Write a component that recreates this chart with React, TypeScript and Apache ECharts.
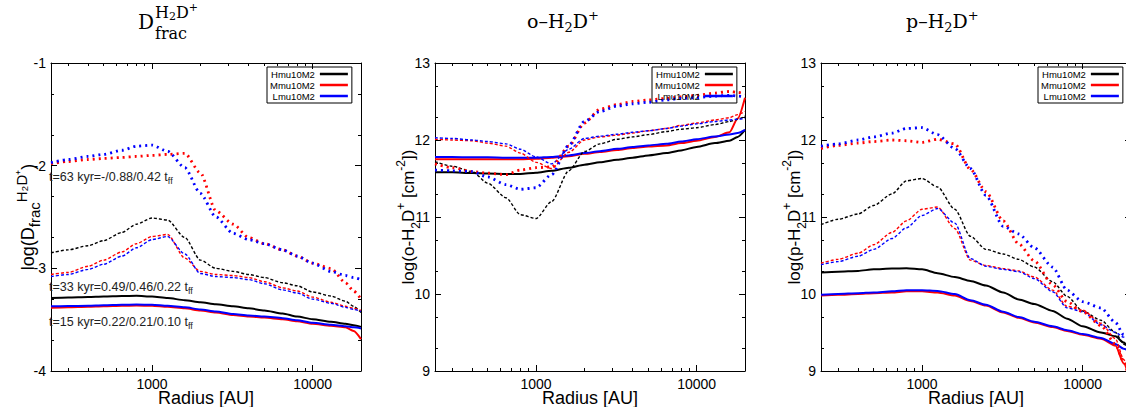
import React, { useEffect, useRef } from "react";
import * as echarts from "echarts";

// ---------- data ----------
const radius = [235, 300, 400, 500, 650, 800, 1000, 1250, 1600, 2000, 2500, 3200, 4000, 5000, 6500, 8000, 10000, 13000, 16000, 18000, 20000];

// Panel 1: log(D_frac)
const dfH15 = [-3.29, -3.285, -3.28, -3.275, -3.27, -3.268, -3.275, -3.29, -3.31, -3.33, -3.35, -3.37, -3.39, -3.41, -3.44, -3.47, -3.495, -3.52, -3.54, -3.555, -3.57];
const dfM15 = [-3.385, -3.38, -3.375, -3.37, -3.365, -3.362, -3.365, -3.375, -3.39, -3.41, -3.43, -3.455, -3.47, -3.48, -3.495, -3.515, -3.54, -3.56, -3.575, -3.61, -3.69];
const dfL15 = [-3.37, -3.368, -3.365, -3.36, -3.355, -3.352, -3.355, -3.365, -3.38, -3.40, -3.42, -3.445, -3.46, -3.47, -3.485, -3.505, -3.53, -3.55, -3.565, -3.575, -3.585];
const dfH33 = [-2.85, -2.82, -2.78, -2.73, -2.65, -2.57, -2.51, -2.53, -2.70, -2.92, -3.00, -3.03, -3.06, -3.09, -3.14, -3.17, -3.23, -3.27, -3.32, -3.37, -3.43];
const dfM33 = [-3.06, -3.04, -2.98, -2.92, -2.84, -2.76, -2.69, -2.67, -2.90, -3.03, -3.06, -3.07, -3.09, -3.13, -3.19, -3.22, -3.28, -3.33, -3.37, -3.39, -3.41];
const dfL33 = [-3.08, -3.06, -3.01, -2.96, -2.88, -2.80, -2.72, -2.69, -2.86, -3.05, -3.08, -3.09, -3.11, -3.15, -3.21, -3.24, -3.30, -3.34, -3.38, -3.40, -3.42];
const dfM63 = [-1.98, -1.96, -1.94, -1.93, -1.92, -1.91, -1.90, -1.89, -1.88, -2.07, -2.44, -2.57, -2.70, -2.76, -2.82, -2.88, -2.95, -3.00, -3.14, -3.22, -3.30];
const dfL63 = [-1.97, -1.94, -1.91, -1.89, -1.85, -1.81, -1.80, -1.86, -2.02, -2.27, -2.50, -2.66, -2.72, -2.76, -2.82, -2.88, -2.95, -3.03, -3.07, -3.09, -3.11];

// Panel 2: log(o-H2D+)
const oH15 = [11.58, 11.58, 11.57, 11.565, 11.56, 11.56, 11.575, 11.60, 11.64, 11.68, 11.71, 11.745, 11.77, 11.80, 11.83, 11.865, 11.91, 11.96, 11.99, 12.04, 12.13];
const oM15 = [11.75, 11.75, 11.75, 11.75, 11.75, 11.75, 11.755, 11.77, 11.79, 11.82, 11.845, 11.87, 11.895, 11.915, 11.93, 11.96, 11.99, 12.04, 12.10, 12.28, 12.55];
const oL15 = [11.78, 11.78, 11.775, 11.775, 11.77, 11.77, 11.77, 11.78, 11.80, 11.83, 11.855, 11.885, 11.91, 11.93, 11.95, 11.98, 12.01, 12.045, 12.07, 12.09, 12.13];
const oH33 = [11.72, 11.66, 11.59, 11.44, 11.25, 11.03, 10.98, 11.20, 11.60, 11.85, 11.95, 12.01, 12.04, 12.07, 12.11, 12.14, 12.16, 12.20, 12.24, 12.27, 12.31];
const oM33 = [12.01, 12.0, 11.99, 11.96, 11.92, 11.83, 11.71, 11.63, 11.84, 12.0, 12.04, 12.065, 12.09, 12.12, 12.15, 12.19, 12.22, 12.26, 12.29, 12.33, 12.37];
const oL33 = [12.03, 12.02, 12.0, 11.98, 11.95, 11.88, 11.78, 11.69, 11.88, 12.02, 12.05, 12.075, 12.10, 12.12, 12.15, 12.18, 12.21, 12.24, 12.26, 12.27, 12.28];
const oM63 = [11.69, 11.64, 11.59, 11.57, 11.55, 11.61, 11.64, 11.65, 11.92, 12.22, 12.40, 12.46, 12.50, 12.52, 12.54, 12.56, 12.58, 12.61, 12.63, 12.62, 12.60];
const oL63 = [11.61, 11.60, 11.59, 11.52, 11.42, 11.36, 11.38, 11.55, 11.93, 12.24, 12.37, 12.44, 12.47, 12.49, 12.52, 12.54, 12.55, 12.57, 12.58, 12.57, 12.56];

// Panel 3: log(p-H2D+)
const pH15 = [10.28, 10.29, 10.30, 10.32, 10.33, 10.335, 10.32, 10.27, 10.22, 10.17, 10.11, 10.02, 9.93, 9.87, 9.78, 9.68, 9.58, 9.50, 9.45, 9.37, 9.25];
const pM15 = [9.98, 9.99, 10.0, 10.01, 10.02, 10.035, 10.035, 10.02, 9.98, 9.91, 9.85, 9.76, 9.69, 9.63, 9.57, 9.52, 9.47, 9.42, 9.33, 9.10, 8.80];
const pL15 = [9.99, 10.0, 10.01, 10.02, 10.035, 10.05, 10.05, 10.04, 10.0, 9.92, 9.86, 9.77, 9.70, 9.64, 9.58, 9.53, 9.48, 9.43, 9.35, 9.29, 9.24];
const pH33 = [10.90, 10.97, 11.04, 11.15, 11.30, 11.47, 11.50, 11.39, 11.10, 10.75, 10.58, 10.52, 10.45, 10.35, 10.16, 9.97, 9.78, 9.66, 9.50, 9.35, 9.25];
const pM33 = [10.40, 10.45, 10.53, 10.64, 10.80, 10.95, 11.10, 11.13, 10.85, 10.44, 10.37, 10.33, 10.30, 10.22, 10.05, 9.84, 9.79, 9.62, 9.42, 9.15, 8.85];
const pL33 = [10.38, 10.42, 10.49, 10.58, 10.72, 10.86, 11.02, 11.11, 10.92, 10.46, 10.36, 10.32, 10.29, 10.20, 10.03, 9.82, 9.77, 9.60, 9.50, 9.44, 9.40];
const pM63 = [11.89, 11.93, 11.96, 11.98, 12.0, 11.99, 11.97, 12.01, 11.95, 11.62, 11.33, 10.95, 10.65, 10.43, 10.12, 9.90, 9.77, 9.59, 9.35, 9.12, 8.80];
const pL63 = [11.92, 11.95, 12.0, 12.04, 12.09, 12.15, 12.16, 12.07, 11.89, 11.63, 11.28, 10.88, 10.78, 10.60, 10.35, 10.05, 9.90, 9.82, 9.63, 9.47, 9.40];

const legendNames = ["Hmu10M2", "Mmu10M2", "Lmu10M2"];
const xMajorTicks = [1000, 10000];
const xMinorTicks = [300, 400, 500, 600, 700, 800, 900, 2000, 3000, 4000, 5000, 6000, 7000, 8000, 9000, 20000];
const yMinor1 = [-3.7, -3.3, -2.7, -2.3, -1.7, -1.3];
const yMinor2 = [9.3, 9.7, 10.3, 10.7, 11.3, 11.7, 12.3, 12.7];

// ---------- styling ----------
const SANS = "'Liberation Sans', Arial, Helvetica, sans-serif";
const SERIF = "'DejaVu Serif', 'Liberation Serif', serif";
const COLORS: Record<string, string> = { H: "#000000", M: "#ff0000", L: "#0000ff" };
const X_MIN = 235;
const X_MAX = 20000;
const GRID_TOP = 63;
const GRID_H = 308;
const GRID_W = 310;

type Kind = "t15" | "t33" | "t63";
const lineStyles: Record<Kind, any> = {
  t15: { width: 2, type: "solid" },
  t33: { width: 1.4, type: [3, 2] },
  t63: { width: 2.8, type: [2, 4] },
};

const richFor = (main: number, small: number) => ({
  n: { fontSize: main, fontFamily: SANS, color: "#000", lineHeight: main + 10 },
  b: { fontSize: small, fontFamily: SANS, color: "#000", lineHeight: small, verticalAlign: "bottom" },
  t: { fontSize: small, fontFamily: SANS, color: "#000", lineHeight: small, verticalAlign: "top" },
});

const panels = [
  {
    left: 51, yMin: -4, yMax: -1, yMinor: yMinor1, nameGap: 9,
    yName: "{n|log(D}{b|frac}{t|H₂D⁺}{n|)}",
    rich: richFor(18, 15),
    legendLeft: 267,
    series: [
      ["H", "t15", dfH15], ["M", "t15", dfM15], ["L", "t15", dfL15],
      ["H", "t33", dfH33], ["M", "t33", dfM33], ["L", "t33", dfL33],
      ["M", "t63", dfM63], ["L", "t63", dfL63],
    ],
  },
  {
    left: 435, yMin: 9, yMax: 13, yMinor: yMinor2, nameGap: 13,
    yName: "{n|log(o-H}{b|2}{n|D}{t|+}{n| [cm}{t|-2}{n|])}",
    rich: richFor(17, 12),
    legendLeft: 652,
    series: [
      ["H", "t15", oH15], ["M", "t15", oM15], ["L", "t15", oL15],
      ["H", "t33", oH33], ["M", "t33", oM33], ["L", "t33", oL33],
      ["M", "t63", oM63], ["L", "t63", oL63],
    ],
  },
  {
    left: 821, yMin: 9, yMax: 13, yMinor: yMinor2, nameGap: 13,
    yName: "{n|log(p-H}{b|2}{n|D}{t|+}{n| [cm}{t|-2}{n|])}",
    rich: richFor(17, 12),
    legendLeft: 1038,
    series: [
      ["H", "t15", pH15], ["M", "t15", pM15], ["L", "t15", pL15],
      ["H", "t33", pH33], ["M", "t33", pM33], ["L", "t33", pL33],
      ["M", "t63", pM63], ["L", "t63", pL63],
    ],
  },
];

function buildOption() {
  const grid: any[] = [];
  const xAxis: any[] = [];
  const yAxis: any[] = [];
  const series: any[] = [];
  const legend: any[] = [];

  panels.forEach((p, gi) => {
    grid.push({ left: p.left, top: GRID_TOP, width: GRID_W, height: GRID_H, containLabel: false, outerBoundsMode: "none", show: false });

    const xBase = { type: "log", logBase: 10, min: X_MIN, max: X_MAX, gridIndex: gi, splitLine: { show: false }, minorTick: { show: false }, minorSplitLine: { show: false } };
    const axLine = { show: true, onZero: false, lineStyle: { color: "#000", width: 1 } };
    xAxis.push({
      ...xBase, position: "bottom", axisLine: axLine,
      axisTick: { show: true, inside: true, length: 6, customValues: xMajorTicks, lineStyle: { color: "#000" } },
      axisLabel: { show: true, customValues: xMajorTicks, formatter: (v: number) => String(Math.round(v)), fontSize: 14, color: "#000", fontFamily: SANS, margin: 6 },
      name: "Radius [AU]", nameLocation: "middle", nameGap: 18, nameMoveOverlap: false,
      nameTextStyle: { fontSize: 18, color: "#000", fontFamily: SANS },
    });
    xAxis.push({
      ...xBase, position: "bottom", axisLine: { show: false },
      axisTick: { show: true, inside: true, length: 3, customValues: xMinorTicks, lineStyle: { color: "#000" } },
      axisLabel: { show: false },
    });
    xAxis.push({
      ...xBase, position: "top", axisLine: axLine,
      axisTick: { show: true, inside: true, length: 6, customValues: xMajorTicks, lineStyle: { color: "#000" } },
      axisLabel: { show: false },
    });
    xAxis.push({
      ...xBase, position: "top", axisLine: { show: false },
      axisTick: { show: true, inside: true, length: 3, customValues: xMinorTicks, lineStyle: { color: "#000" } },
      axisLabel: { show: false },
    });

    const yBase = { type: "value", min: p.yMin, max: p.yMax, interval: 1, gridIndex: gi, splitLine: { show: false } };
    yAxis.push({
      ...yBase, position: "left", axisLine: axLine,
      axisTick: { show: true, inside: true, length: 6, lineStyle: { color: "#000" } },
      axisLabel: { show: true, fontSize: 14, color: "#000", fontFamily: SANS, margin: 5 },
      name: p.yName, nameLocation: "middle", nameGap: p.nameGap, nameRotate: 90, nameMoveOverlap: false,
      nameTextStyle: { color: "#000", fontFamily: SANS, fontSize: 17, rich: p.rich },
    });
    yAxis.push({
      ...yBase, position: "left", axisLine: { show: false },
      axisTick: { show: true, inside: true, length: 3, customValues: p.yMinor, lineStyle: { color: "#000" } },
      axisLabel: { show: false },
    });
    yAxis.push({
      ...yBase, position: "right", axisLine: axLine,
      axisTick: { show: true, inside: true, length: 6, lineStyle: { color: "#000" } },
      axisLabel: { show: false },
    });
    yAxis.push({
      ...yBase, position: "right", axisLine: { show: false },
      axisTick: { show: true, inside: true, length: 3, customValues: p.yMinor, lineStyle: { color: "#000" } },
      axisLabel: { show: false },
    });

    p.series.forEach(([model, kind, vals]: any) => {
      const name = kind === "t15" ? `${model}mu10M2` : `${model}mu10M2 ${kind} p${gi}`;
      series.push({
        type: "line",
        name,
        xAxisIndex: gi * 4,
        yAxisIndex: gi * 4,
        data: radius.map((r, i) => [r, vals[i]]),
        symbol: "none",
        showSymbol: false,
        smooth: 0.25,
        smoothMonotone: "x",
        clip: true,
        color: COLORS[model],
        lineStyle: { ...lineStyles[kind as Kind], color: COLORS[model] },
        silent: true,
      });
    });

    legend.push({
      data: legendNames,
      orient: "vertical",
      align: "right",
      left: p.legendLeft,
      top: 67,
      icon: "rect",
      itemWidth: 28,
      itemHeight: 2.5,
      itemGap: 1,
      padding: [2, 4, 2, 3],
      borderColor: "#000",
      borderWidth: 1,
      borderRadius: 0,
      backgroundColor: "transparent",
      selectedMode: false,
      textStyle: { fontSize: 9.5, color: "#000", fontFamily: SANS, lineHeight: 10 },
    });
  });

  const annRich = {
    a: { fontSize: 12.5, fontFamily: SANS, fill: "#222", lineHeight: 16 },
    s: { fontSize: 9, fontFamily: SANS, fill: "#222", lineHeight: 9, verticalAlign: "bottom" },
  };
  const titleRich = {
    n: { fontSize: 19, fontFamily: SERIF, fill: "#000", lineHeight: 25 },
    b: { fontSize: 13, fontFamily: SERIF, fill: "#000", lineHeight: 13, verticalAlign: "bottom" },
    t: { fontSize: 13, fontFamily: SERIF, fill: "#000", lineHeight: 13, verticalAlign: "top" },
  };
  const supRich = {
    n: { fontSize: 16, fontFamily: SERIF, fill: "#000", lineHeight: 20 },
    b: { fontSize: 11, fontFamily: SERIF, fill: "#000", lineHeight: 11, verticalAlign: "bottom" },
    t: { fontSize: 11, fontFamily: SERIF, fill: "#000", lineHeight: 11, verticalAlign: "top" },
  };

  const graphic: any[] = [
    { type: "text", x: 138, y: 22, z: 10, style: { text: "D", fontSize: 20, fontFamily: SERIF, fill: "#000", verticalAlign: "middle" } },
    { type: "text", x: 155, y: 12, z: 10, style: { text: "{n|H}{b|2}{n|D}{t|+}", rich: supRich, verticalAlign: "middle" } },
    { type: "text", x: 155, y: 33, z: 10, style: { text: "frac", fontSize: 16, fontFamily: SERIF, fill: "#000", verticalAlign: "middle" } },
    { type: "text", x: 527, y: 21, z: 10, style: { text: "{n|o–H}{b|2}{n|D}{t|+}", rich: titleRich, verticalAlign: "middle" } },
    { type: "text", x: 906, y: 21, z: 10, style: { text: "{n|p–H}{b|2}{n|D}{t|+}", rich: titleRich, verticalAlign: "middle" } },
    { type: "text", x: 49, y: 177, z: 10, style: { text: "{a|t=63 kyr=-/0.88/0.42 t}{s|ff}", rich: annRich, verticalAlign: "middle" } },
    { type: "text", x: 49, y: 287, z: 10, style: { text: "{a|t=33 kyr=0.49/0.46/0.22 t}{s|ff}", rich: annRich, verticalAlign: "middle" } },
    { type: "text", x: 49, y: 322, z: 10, style: { text: "{a|t=15 kyr=0.22/0.21/0.10 t}{s|ff}", rich: annRich, verticalAlign: "middle" } },
  ];

  return {
    animation: false,
    backgroundColor: "#ffffff",
    textStyle: { fontFamily: SANS },
    grid,
    xAxis,
    yAxis,
    legend,
    series,
    graphic,
  };
}

export default function App() {
  const ref = useRef<HTMLDivElement>(null);
  useEffect(() => {
    if (!ref.current) return;
    const chart = echarts.init(ref.current, null, { renderer: "svg" });
    chart.setOption(buildOption() as any);
    return () => chart.dispose();
  }, []);
  return (
    <div
      ref={ref}
      style={{ position: "fixed", left: 0, top: 0, width: 1126, height: 407, background: "#fff" }}
    />
  );
}
